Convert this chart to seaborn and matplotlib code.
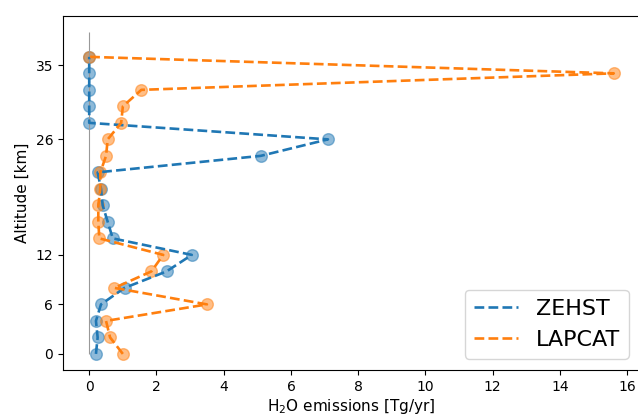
import matplotlib
matplotlib.use("Agg")
import matplotlib.pyplot as plt
import seaborn as sns
import numpy as np

altitude = [0, 2, 4, 6, 8, 10, 12, 14, 16, 18, 20, 22, 24, 26, 28, 30, 32, 34, 36]
zehst = [0.2, 0.25, 0.2, 0.35, 1.05, 2.3, 3.05, 0.7, 0.55, 0.4, 0.35, 0.25,
         5.1, 7.1, 0.0, 0.0, 0.0, 0.0, 0.0]
lapcat = [1.0, 0.62, 0.5, 3.5, 0.75, 1.85, 2.2, 0.3, 0.27, 0.27, 0.33, 0.33,
          0.5, 0.55, 0.95, 1.0, 1.55, 15.6, 0.0]
ytick_vals = [0, 6, 12, 26, 35]

fig = plt.figure(figsize=(6.38, 4.16), dpi=100)
ax = fig.add_axes([63 / 638, 46 / 416, 577 / 638, 354 / 416])

ax.vlines(0, 0, 39, color="#999999", linewidth=0.8)

colors = ["#1f77b4", "#ff7f0e"]
for vals, name, c in [(zehst, "ZEHST", colors[0]), (lapcat, "LAPCAT", colors[1])]:
    sns.lineplot(x=vals, y=altitude, sort=False, estimator=None, ax=ax,
                 color=c, linestyle="--", linewidth=1.9, label=name)
    sns.scatterplot(x=vals, y=altitude, ax=ax, color=c, alpha=0.5, s=70,
                    edgecolor=c, linewidth=1, legend=False)

ax.set_yticks(ytick_vals)
ax.set_xticks(np.arange(0, 17, 2))
ax.set_xlim(-0.78, 16.38)
ax.set_ylim(-1.95, 40.95)
ax.tick_params(labelsize=10)
ax.set_xlabel("H$_2$O emissions [Tg/yr]", fontsize=11, labelpad=2.5)
ax.set_ylabel("Altitude [km]", fontsize=11)
ax.legend(loc="lower right", fontsize=16)

fig.savefig("out.png", dpi=100)
